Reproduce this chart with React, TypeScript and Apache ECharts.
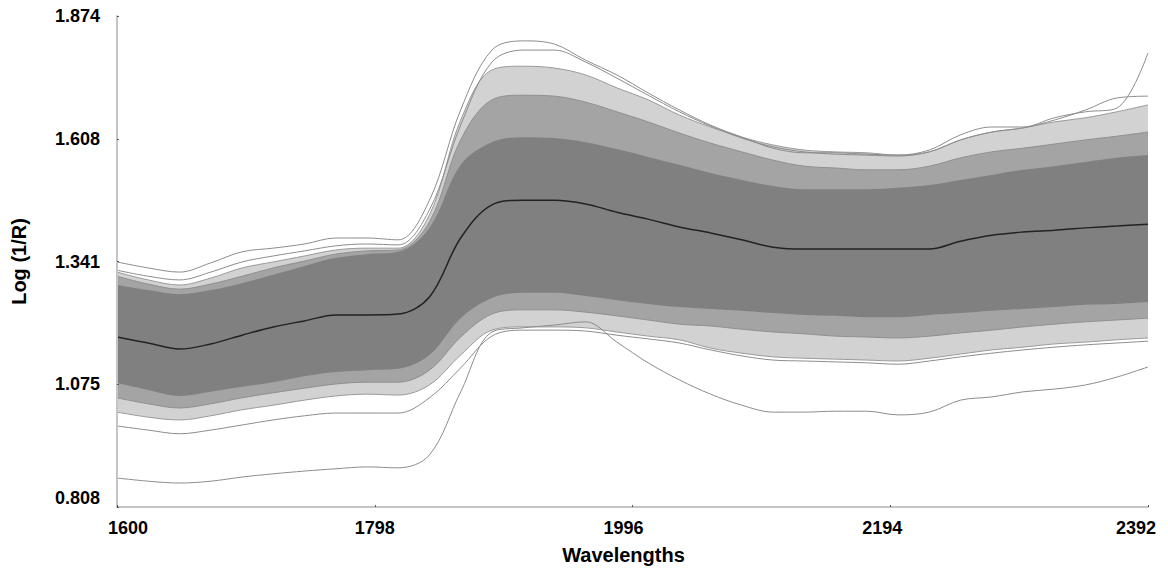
import React, { useEffect, useRef } from "react";
import * as echarts from "echarts";

// Wavelength grid (nm)
const wavelengths = [
  1600, 1624, 1648, 1672, 1696, 1720, 1744, 1768, 1792, 1816, 1840, 1864,
  1888, 1912, 1936, 1960, 1984, 2008, 2032, 2056, 2080, 2104, 2128, 2152,
  2176, 2200, 2224, 2248, 2272, 2296, 2320, 2344, 2368, 2392,
];

const xTicks = [1600, 1798, 1996, 2194, 2392];
const yTickLabels = ["0.808", "1.075", "1.341", "1.608", "1.874"];

// Mean spectrum (dark line)
const meanSpectrum = [
  1.177, 1.164, 1.151, 1.162, 1.181, 1.199, 1.212, 1.225, 1.225, 1.227, 1.264, 1.392,
  1.464, 1.474, 1.474, 1.466, 1.448, 1.433, 1.416, 1.403, 1.388, 1.372, 1.368, 1.368,
  1.368, 1.368, 1.368, 1.385, 1.398, 1.405, 1.409, 1.414, 1.418, 1.422,
];

// Dense core of the spectra (solid grey band)
const coreUpper = [
  1.290, 1.279, 1.270, 1.279, 1.294, 1.312, 1.331, 1.349, 1.357, 1.362, 1.414, 1.551,
  1.600, 1.611, 1.609, 1.600, 1.585, 1.568, 1.551, 1.533, 1.518, 1.505, 1.498, 1.498,
  1.498, 1.501, 1.507, 1.518, 1.529, 1.540, 1.548, 1.557, 1.566, 1.572,
];
const coreLower = [
  1.077, 1.062, 1.049, 1.058, 1.069, 1.079, 1.092, 1.101, 1.105, 1.108, 1.138, 1.218,
  1.262, 1.273, 1.273, 1.266, 1.257, 1.249, 1.242, 1.238, 1.234, 1.229, 1.225, 1.223,
  1.220, 1.220, 1.225, 1.229, 1.234, 1.238, 1.242, 1.247, 1.249, 1.253,
];

// Sparse fringe of spectra
const upperEdge = [
  1.318, 1.301, 1.290, 1.305, 1.327, 1.340, 1.353, 1.366, 1.370, 1.370, 1.442, 1.648,
  1.757, 1.765, 1.761, 1.746, 1.718, 1.692, 1.659, 1.633, 1.611, 1.594, 1.583, 1.579,
  1.577, 1.572, 1.579, 1.605, 1.622, 1.631, 1.644, 1.653, 1.666, 1.681,
];
const upperInner = [
  1.309, 1.292, 1.281, 1.292, 1.309, 1.327, 1.342, 1.357, 1.364, 1.366, 1.427, 1.605,
  1.692, 1.702, 1.700, 1.687, 1.666, 1.644, 1.620, 1.598, 1.579, 1.561, 1.548, 1.544,
  1.540, 1.540, 1.548, 1.566, 1.579, 1.587, 1.596, 1.605, 1.613, 1.622,
];
const lowerInner = [
  1.045, 1.032, 1.023, 1.032, 1.045, 1.056, 1.066, 1.075, 1.079, 1.079, 1.105, 1.177,
  1.227, 1.236, 1.236, 1.231, 1.223, 1.214, 1.205, 1.201, 1.194, 1.188, 1.184, 1.179,
  1.177, 1.175, 1.179, 1.186, 1.192, 1.199, 1.205, 1.210, 1.214, 1.218,
];
const lowerEdge = [
  1.014, 1.003, 0.997, 1.006, 1.019, 1.029, 1.040, 1.049, 1.053, 1.051, 1.073, 1.138,
  1.192, 1.199, 1.199, 1.197, 1.188, 1.179, 1.171, 1.153, 1.142, 1.134, 1.131, 1.129,
  1.127, 1.125, 1.131, 1.140, 1.149, 1.155, 1.162, 1.166, 1.171, 1.175,
];

// Individual outlying spectra
const topOutlierA = [
  1.340, 1.327, 1.318, 1.338, 1.362, 1.370, 1.379, 1.392, 1.392, 1.388, 1.474, 1.670,
  1.800, 1.820, 1.813, 1.778, 1.746, 1.707, 1.670, 1.637, 1.611, 1.587, 1.577, 1.577,
  1.574, 1.572, 1.583, 1.616, 1.633, 1.633, 1.653, 1.666, 1.674, 1.794,
];
const topOutlierB = [
  1.322, 1.309, 1.301, 1.318, 1.340, 1.353, 1.364, 1.375, 1.379, 1.377, 1.453, 1.637,
  1.774, 1.800, 1.800, 1.774, 1.739, 1.702, 1.666, 1.635, 1.609, 1.590, 1.579, 1.574,
  1.572, 1.570, 1.579, 1.605, 1.622, 1.631, 1.648, 1.670, 1.696, 1.700,
];
const lowOutlier = [
  0.984, 0.975, 0.967, 0.975, 0.986, 0.997, 1.006, 1.012, 1.012, 1.012, 1.045, 1.110,
  1.179, 1.192, 1.192, 1.190, 1.181, 1.173, 1.164, 1.149, 1.136, 1.127, 1.125, 1.123,
  1.121, 1.118, 1.125, 1.134, 1.142, 1.149, 1.155, 1.160, 1.164, 1.168,
];
const bottomOutlier = [
  0.871, 0.864, 0.860, 0.864, 0.873, 0.880, 0.886, 0.891, 0.895, 0.893, 0.921, 1.058,
  1.188, 1.197, 1.203, 1.210, 1.166, 1.121, 1.084, 1.053, 1.029, 1.014, 1.014, 1.016,
  1.016, 1.008, 1.014, 1.040, 1.047, 1.058, 1.064, 1.073, 1.090, 1.112,
];

const FONT = "'Liberation Sans', Arial, Helvetica, sans-serif";
const SMOOTH = 0.35;

export default function App() {
  const ref = useRef<HTMLDivElement>(null);

  useEffect(() => {
    if (!ref.current) return;
    const chart = echarts.init(ref.current, null, { renderer: "svg" });
    const pairs = (ys: number[]) => wavelengths.map((w, i) => [w, ys[i]]);

    const area = (name: string, ys: number[], color: string) => ({
      name,
      type: "line",
      data: pairs(ys),
      smooth: SMOOTH,
      symbol: "none",
      silent: true,
      lineStyle: { width: 0, color },
      areaStyle: { color, opacity: 1, origin: "start" },
    });
    const line = (name: string, ys: number[], color: string, width: number) => ({
      name,
      type: "line",
      data: pairs(ys),
      smooth: SMOOTH,
      symbol: "none",
      silent: true,
      lineStyle: { width, color },
    });

    const labelStyle = { fontFamily: FONT, fontSize: 18, fontWeight: "bold", color: "#000" };
    const xShift: Record<string, number[]> = {
      s0: [0, 0, 0, 22],
      s1: [0, 0, 0, 0],
      s2: [0, 18, 0, 0],
      s3: [0, 16, 0, 0],
      s4: [0, 24, 0, 0],
    };
    const rich: Record<string, any> = {};
    Object.keys(xShift).forEach((k) => {
      rich[k] = { ...labelStyle, padding: xShift[k] };
    });

    const yVals = yTickLabels.map((s) => parseFloat(s));

    chart.setOption({
      animation: false,
      backgroundColor: "#ffffff",
      grid: { left: 117, top: 16, width: 1031, height: 491 },
      xAxis: {
        type: "value",
        min: 1600,
        max: 2392,
        interval: 198,
        z: 10,
        name: "Wavelengths",
        nameLocation: "middle",
        nameGap: 38,
        nameTextStyle: { ...labelStyle, fontSize: 20, padding: [0, 18, 0, 0] },
        axisLine: { show: true, lineStyle: { color: "#c4c4c4", width: 2 } },
        axisTick: { show: true, inside: true, length: 2, lineStyle: { color: "#555" } },
        splitLine: { show: false },
        axisLabel: {
          margin: 12,
          ...labelStyle,
          rich,
          formatter: (v: number) => {
            let idx = 0;
            xTicks.forEach((t, i) => {
              if (Math.abs(t - v) < Math.abs(xTicks[idx] - v)) idx = i;
            });
            return `{s${idx}|${xTicks[idx]}}`;
          },
        },
      },
      yAxis: {
        type: "value",
        min: 0.808,
        max: 1.874,
        interval: 0.2665,
        z: 10,
        name: "Log (1/R)",
        nameLocation: "middle",
        nameGap: 88,
        nameTextStyle: { ...labelStyle, fontSize: 20 },
        axisLine: { show: true, lineStyle: { color: "#c4c4c4", width: 2 } },
        axisTick: { show: true, inside: true, length: 2, lineStyle: { color: "#555" } },
        splitLine: { show: false },
        axisLabel: {
          margin: 17,
          ...labelStyle,
          verticalAlignMinLabel: "bottom",
          formatter: (v: number) => {
            let idx = 0;
            yVals.forEach((t, i) => {
              if (Math.abs(t - v) < Math.abs(yVals[idx] - v)) idx = i;
            });
            return yTickLabels[idx];
          },
        },
      },
      series: [
        area("upperEdge", upperEdge, "#d2d2d2"),
        area("upperInner", upperInner, "#a4a4a4"),
        area("coreUpper", coreUpper, "#808080"),
        area("coreLower", coreLower, "#a4a4a4"),
        area("lowerInner", lowerInner, "#d2d2d2"),
        area("lowerEdge", lowerEdge, "#ffffff"),
        line("upperEdgeLine", upperEdge, "#9a9a9a", 1),
        line("upperInnerLine", upperInner, "#8f8f8f", 1),
        line("lowerInnerLine", lowerInner, "#8f8f8f", 1),
        line("lowerEdgeLine", lowerEdge, "#9a9a9a", 1),
        line("topOutlierA", topOutlierA, "#8c8c8c", 1),
        line("topOutlierB", topOutlierB, "#8c8c8c", 1),
        line("lowOutlier", lowOutlier, "#8c8c8c", 1),
        line("bottomOutlier", bottomOutlier, "#8c8c8c", 1),
        line("mean", meanSpectrum, "#222222", 1.5),
      ],
    });

    return () => chart.dispose();
  }, []);

  return (
    <div
      ref={ref}
      style={{ position: "fixed", left: 0, top: 0, width: 1168, height: 572, background: "#fff" }}
    />
  );
}
